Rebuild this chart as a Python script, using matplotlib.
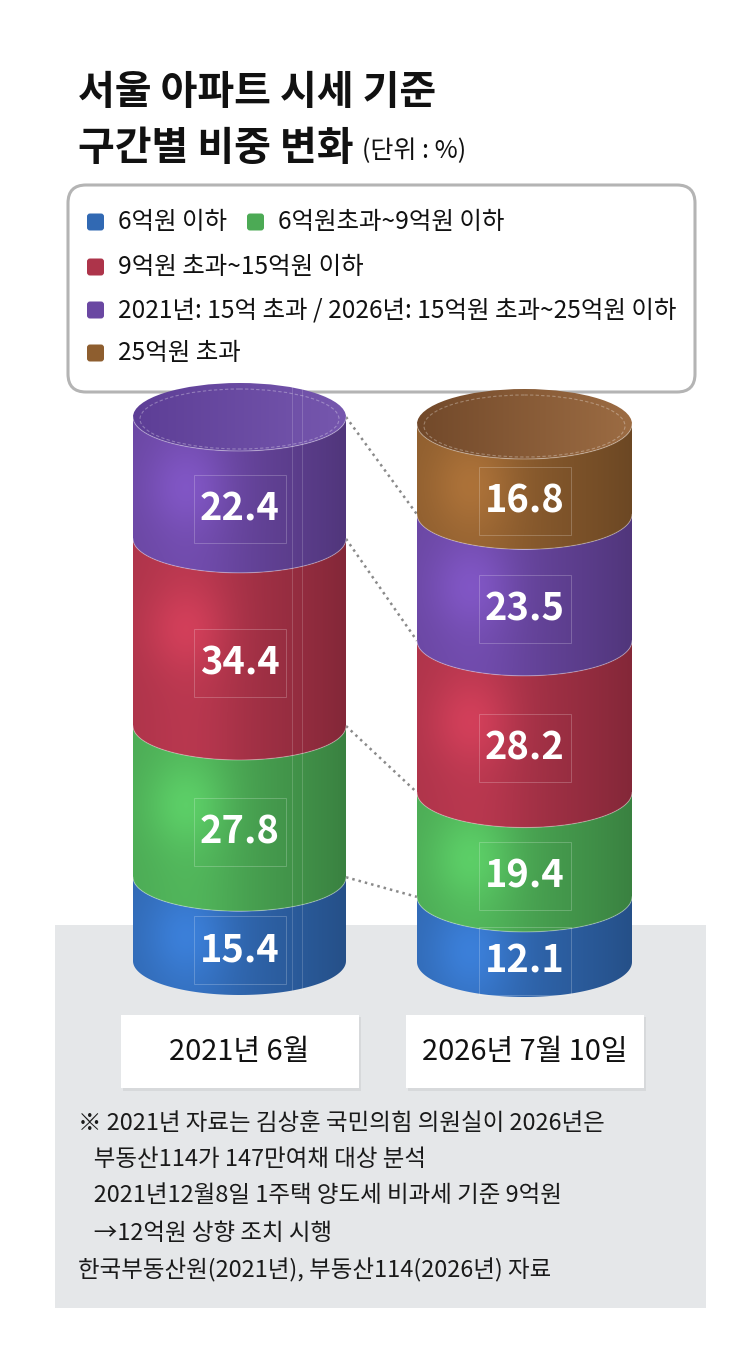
import numpy as np
import matplotlib
matplotlib.use("Agg")
import matplotlib.pyplot as plt
from matplotlib.patches import Polygon, Ellipse, FancyBboxPatch, Rectangle
from matplotlib.colors import to_rgb

plt.rcParams['font.family'] = ['Noto Sans CJK KR', 'DejaVu Sans']

# data
categories = ["6억원 이하", "6억원초과~9억원 이하", "9억원 초과~15억원 이하",
              "2021년: 15억 초과 / 2026년: 15억원 초과~25억원 이하", "25억원 초과"]
colors = ["#3169b3", "#4caa55", "#ad344a", "#6a47a2", "#8e5e2f"]
top_colors = [None, None, None, ("#5d3e96", "#7657ae"), ("#72492a", "#9c6c43")]
periods = ["2021년 6월", "2026년 7월 10일"]
values_2021 = [15.4, 27.8, 34.4, 22.4]          # bottom -> top
values_2026 = [12.1, 19.4, 28.2, 23.5, 16.8]
title1 = "서울 아파트 시세 기준"
title2 = "구간별 비중 변화"
unit = "(단위 : %)"
notes = ["※ 2021년 자료는 김상훈 국민의힘 의원실이 2026년은",
         "   부동산114가 147만여채 대상 분석",
         "   2021년12월8일 1주택 양도세 비과세 기준 9억원",
         "   →12억원 상향 조치 시행",
         "한국부동산원(2021년), 부동산114(2026년) 자료"]

W, H = 739, 1351
PT = 0.72  # px -> pt at dpi 100

fig = plt.figure(figsize=(W / 100, H / 100), dpi=100)
ax = fig.add_axes([0, 0, 1, 1])
ax.axis('off')

# grey panel
ax.add_patch(Rectangle((55, 925), 651, 383, fc="#e5e7e9", ec="none", zorder=0))

# title
ax.text(78, 93, title1, fontsize=40 * PT, fontweight='heavy', va='center', ha='left', color="#111111")
ax.text(78, 148, title2, fontsize=40 * PT, fontweight='heavy', va='center', ha='left', color="#111111")
ax.text(362, 151, unit, fontsize=25 * PT, va='center', ha='left', color="#111111")

# legend box
ax.add_patch(FancyBboxPatch((68, 185), 627, 207, boxstyle="round,pad=0,rounding_size=18",
                            fc="white", ec="#b4b4b4", lw=2.2, zorder=1))
leg_pos = [(87, 222), (247, 222), (87, 267), (87, 310), (87, 353)]
for (lx, ly), cat, col in zip(leg_pos, categories, colors):
    ax.add_patch(FancyBboxPatch((lx, ly - 8.5), 17, 17, boxstyle="round,pad=0,rounding_size=3",
                                fc=col, ec="none", zorder=2))
    ax.text(lx + 31, ly, cat, fontsize=24.5 * PT, va='center', ha='left', color="#111111", zorder=2)


def shade(col, x0, x1, y0, y1, glow, top=False, col2=None):
    nx, ny = int(x1 - x0) + 1, int(y1 - y0) + 1
    xs = np.linspace(x0, x1, nx)[None, :]
    ys = np.linspace(y0, y1, ny)[:, None]
    u = (xs - x0) / (x1 - x0)
    if top:
        a, b = np.array(to_rgb(col)), np.array(to_rgb(col2))
        img = a[None, None, :] * (1 - u[..., None]) + b[None, None, :] * u[..., None]
        return np.broadcast_to(img, (ny, nx, 3)).copy()
    base = np.array(to_rgb(col))
    prof = 1.0 + 0.08 * np.exp(-((u - 0.28) / 0.22) ** 2) - 0.24 * u ** 2
    gx, gy = glow
    g = 0.14 * np.exp(-((xs - gx) ** 2 + (ys - gy) ** 2) / (2 * 30 ** 2))
    img = base[None, None, :] * prof[..., None] * (1 + g[..., None])
    return np.clip(img, 0, 1)


def cylinder(cx, rx, ry, y_top, y_bot, values):
    scale = (y_bot - y_top) / sum(values)
    bounds = [y_bot]
    for v in values:
        bounds.append(bounds[-1] - v * scale)
    th = np.linspace(0, np.pi, 80)
    for i, v in enumerate(values):
        yb, yt = bounds[i], bounds[i + 1]
        upper = np.c_[cx + rx * np.cos(th), yt + ry * np.sin(th)]
        lower = np.c_[cx + rx * np.cos(th[::-1]), yb + ry * np.sin(th[::-1])]
        poly = Polygon(np.vstack([upper, lower]), closed=True, fc='none', ec='none')
        ax.add_patch(poly)
        img = shade(colors[i], cx - rx, cx + rx, yt, yb + ry,
                    (cx - rx + 0.25 * 2 * rx, yt + ry + 0.3 * (yb - yt)))
        im = ax.imshow(img, extent=[cx - rx, cx + rx, yb + ry, yt], aspect='auto',
                       interpolation='bilinear', zorder=3)
        im.set_clip_path(poly)
        ax.plot(upper[:, 0], upper[:, 1], color='white', alpha=0.3, lw=0.8, zorder=4)
        ly = (yt + yb) / 2 + 0.9 * ry
        ax.text(cx, ly, f"{v:.1f}", fontsize=38 * PT, fontweight='heavy', color='white',
                ha='center', va='center', zorder=6)
        ax.add_patch(Rectangle((cx - 46, ly - 34), 92, 68, fc='none', ec='white',
                               alpha=0.25, lw=0.6, zorder=5))
    # top face
    yt = bounds[-1]
    k = len(values) - 1
    ell = Ellipse((cx, yt), 2 * rx, 2 * ry, fc='none', ec='none')
    ax.add_patch(ell)
    c1, c2 = top_colors[k]
    img = shade(c1, cx - rx, cx + rx, yt - ry, yt + ry, None, top=True, col2=c2)
    im = ax.imshow(img, extent=[cx - rx, cx + rx, yt + ry, yt - ry], aspect='auto', zorder=3)
    im.set_clip_path(ell)
    ax.add_patch(Ellipse((cx, yt + 2), 2 * rx - 14, 2 * ry - 8, fc='none', ec='white',
                         alpha=0.3, lw=0.8, ls=(0, (3, 2)), zorder=4))
    return bounds


cyl = [dict(cx=239.5, rx=106.5, ry=34, y_top=417, y_bot=961),
       dict(cx=524.5, rx=107.5, ry=35, y_top=424, y_bot=962)]

b_left = cylinder(values=values_2021, **cyl[0])
b_right = cylinder(values=values_2026, **cyl[1])

# dotted connectors between matching category boundaries
xl = cyl[0]['cx'] + cyl[0]['rx']
xr = cyl[1]['cx'] - cyl[1]['rx']
for i in range(1, len(values_2021) + 1):
    ax.plot([xl, xr], [b_left[i], b_right[i]], color="#8a8a8a", lw=1.8,
            ls=(0, (1, 1.6)), zorder=2)

# faint guide lines on the left cylinder
for gx in (292, 302):
    ax.plot([gx, gx], [385, 990], color='white', alpha=0.2, lw=0.6, zorder=5)

# date boxes
for c, p in zip(cyl, periods):
    x0 = c['cx'] - 119
    ax.add_patch(Rectangle((x0 + 2, 1017), 238, 74, fc="#cfd1d3", ec='none', alpha=0.6, zorder=1))
    ax.add_patch(Rectangle((x0, 1015), 238, 73, fc='white', ec='none', zorder=2))
    ax.text(c['cx'], 1052, p, fontsize=29 * PT, ha='center', va='center', color="#111111", zorder=3)

# notes
note_y = [1124, 1160, 1196, 1233, 1270]
for t, y in zip(notes, note_y):
    ax.text(78, y, t, fontsize=23.5 * PT, ha='left', va='center', color="#1a1a1a", zorder=3)

ax.set_xlim(0, W)
ax.set_ylim(H, 0)
fig.savefig("out.png", dpi=100)
